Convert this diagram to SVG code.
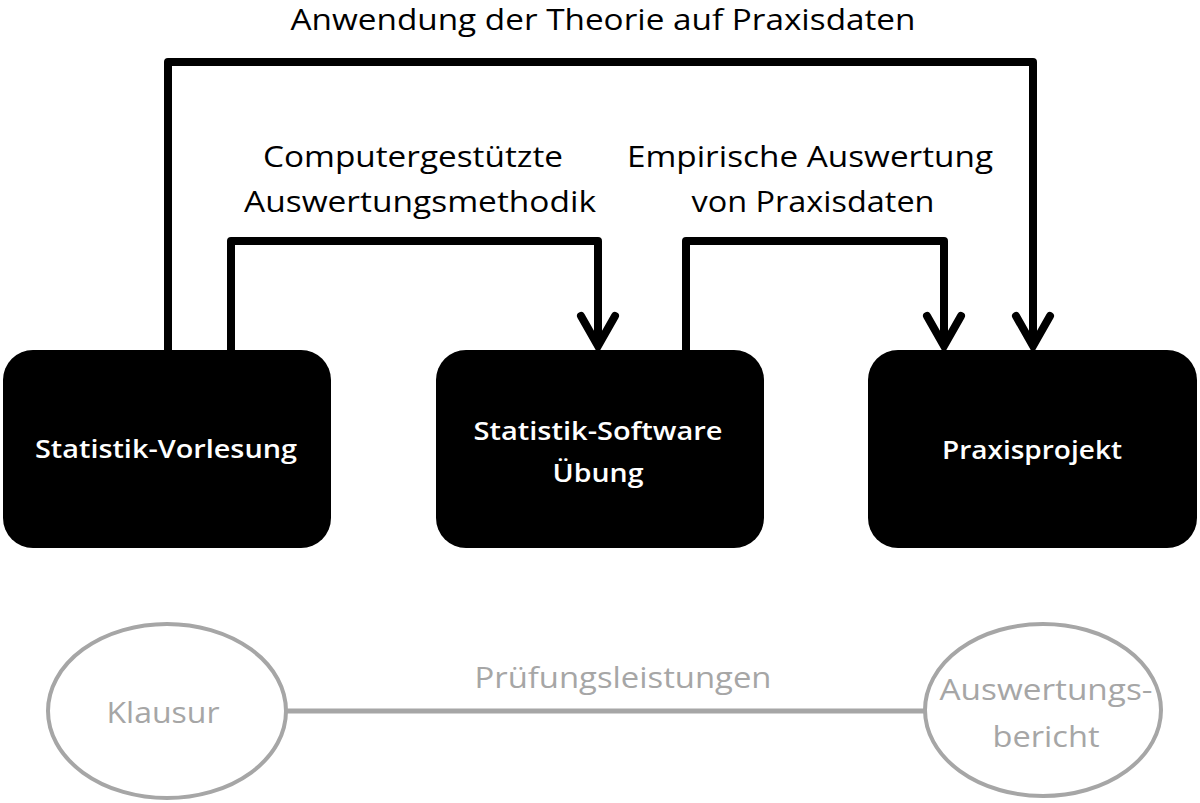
<svg xmlns="http://www.w3.org/2000/svg" width="1200" height="803" viewBox="0 0 1200 803">
<defs>
<style>
.lbl{font-family:"Open Sans","Noto Sans","Liberation Sans",sans-serif;fill:#000;font-size:29px;text-anchor:middle}
.node rect{fill:#000}
.nt{font-family:"Open Sans","Noto Sans","Liberation Sans",sans-serif;fill:#fff;font-size:25px;font-weight:600;text-anchor:middle}
.gt{font-family:"Open Sans","Noto Sans","Liberation Sans",sans-serif;fill:#a6a6a6;font-size:29px;text-anchor:middle}
.conn{fill:none;stroke:#000;stroke-width:8;stroke-linejoin:round}
.ell{fill:#fff;stroke:#a6a6a6;stroke-width:4}
</style>
<marker id="arr" markerUnits="userSpaceOnUse" markerWidth="60" markerHeight="60" viewBox="-40 -30 60 60" refX="0" refY="0" orient="auto" overflow="visible">
<path d="M -30 -17 L 0 0 L -30 17" fill="none" stroke="#000" stroke-width="8" stroke-linecap="round" stroke-linejoin="miter"/>
</marker>
</defs>
<rect width="1200" height="803" fill="#fff"/>
<g id="connectors">
<path class="conn" d="M168 351 V62 H1033 V346" marker-end="url(#arr)"/>
<path class="conn" d="M231 351 V241 H598 V346" marker-end="url(#arr)"/>
<path class="conn" d="M686 351 V241 H944 V346" marker-end="url(#arr)"/>
<line x1="287" y1="711" x2="925" y2="711" stroke="#a6a6a6" stroke-width="5"/>
<text class="lbl" x="603" y="30" font-size="28" textLength="625" lengthAdjust="spacingAndGlyphs">Anwendung der Theorie auf Praxisdaten</text>
<text class="lbl" x="413" y="167" textLength="300" lengthAdjust="spacingAndGlyphs">Computergestützte</text>
<text class="lbl" x="420" y="212" textLength="352" lengthAdjust="spacingAndGlyphs">Auswertungsmethodik</text>
<text class="lbl" x="810" y="167" textLength="366" lengthAdjust="spacingAndGlyphs">Empirische Auswertung</text>
<text class="lbl" x="813" y="212" textLength="243" lengthAdjust="spacingAndGlyphs">von Praxisdaten</text>
<text class="gt" x="623" y="688" textLength="297" lengthAdjust="spacingAndGlyphs">Prüfungsleistungen</text>
</g>
<g id="n1" class="node">
<rect x="3" y="350" width="328" height="198" rx="30"/>
<text class="nt" x="166" y="458" textLength="262" lengthAdjust="spacingAndGlyphs">Statistik-Vorlesung</text>
</g>
<g id="n2" class="node">
<rect x="436" y="350" width="328" height="198" rx="30"/>
<text class="nt" x="598" y="440" textLength="249" lengthAdjust="spacingAndGlyphs">Statistik-Software</text>
<text class="nt" x="598" y="482" textLength="91" lengthAdjust="spacingAndGlyphs">Übung</text>
</g>
<g id="n3" class="node">
<rect x="868" y="350" width="329" height="198" rx="30"/>
<text class="nt" x="1032" y="459" textLength="180" lengthAdjust="spacingAndGlyphs">Praxisprojekt</text>
</g>
<g id="e1">
<ellipse class="ell" cx="167" cy="711" rx="119" ry="87"/>
<text class="gt" x="163" y="723" textLength="113" lengthAdjust="spacingAndGlyphs">Klausur</text>
</g>
<g id="e2">
<ellipse class="ell" cx="1043" cy="710" rx="118" ry="86"/>
<text class="gt" x="1046" y="700" textLength="213" lengthAdjust="spacingAndGlyphs">Auswertungs-</text>
<text class="gt" x="1046" y="747" textLength="107" lengthAdjust="spacingAndGlyphs">bericht</text>
</g>
</svg>
